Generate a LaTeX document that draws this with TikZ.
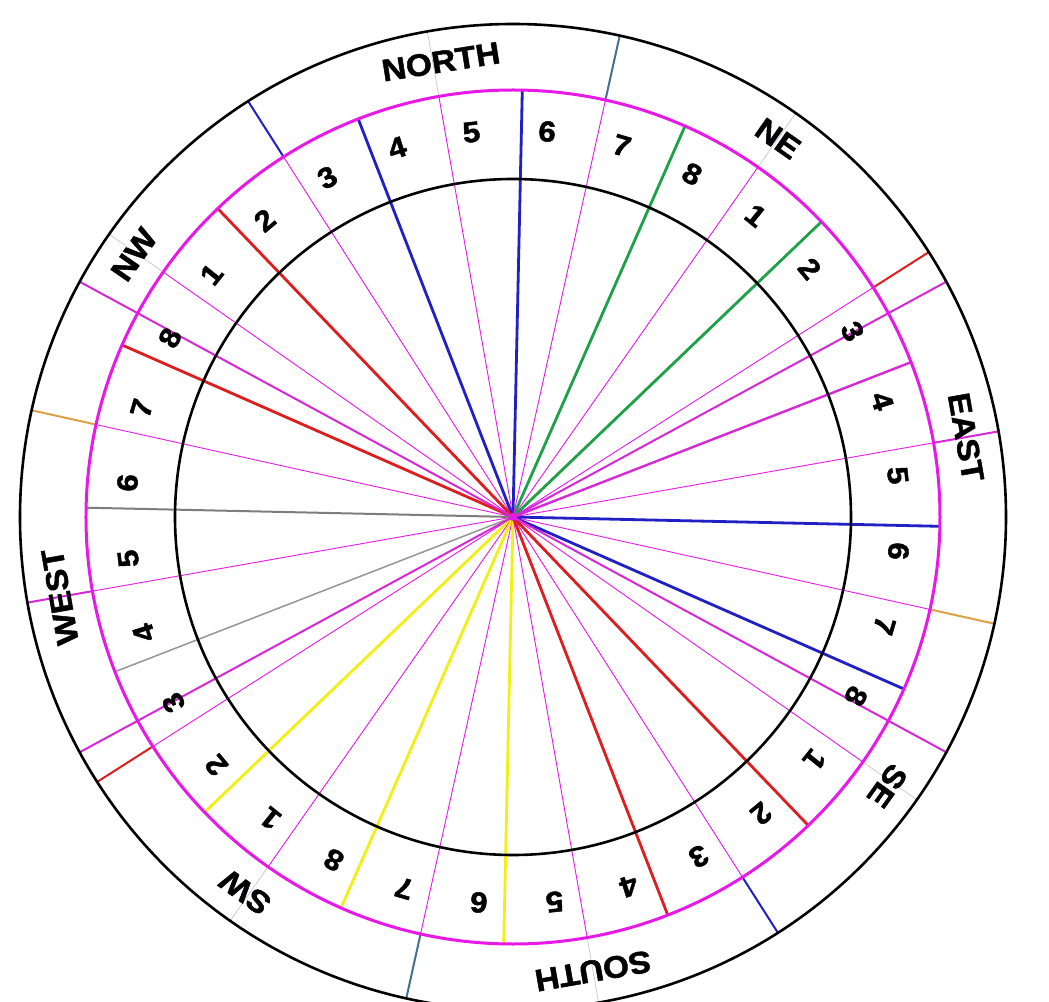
\documentclass[tikz,border=0pt]{standalone}
\usepackage{fontspec}
\newfontfamily\lblfont{Liberation Sans Bold}[FakeStretch=1.08, FakeBold=1.6]
\definecolor{mag}{RGB}{232,24,232}
\definecolor{magmed}{RGB}{214,40,214}
\definecolor{cblue}{RGB}{32,32,196}
\definecolor{cred}{RGB}{222,30,30}
\definecolor{cgreen}{RGB}{30,160,70}
\definecolor{cyellow}{RGB}{240,240,20}
\definecolor{cgrayA}{RGB}{125,125,125}
\definecolor{cgrayB}{RGB}{150,150,150}
\definecolor{corange}{RGB}{222,160,70}
\definecolor{cgblue}{RGB}{70,110,145}
\definecolor{cfaint}{RGB}{205,185,205}
\tikzset{
  ring/.style={draw=black, line width=2.6pt},
  magring/.style={draw=mag, line width=3pt},
  numlbl/.style={inner sep=0pt, font=\lblfont\fontsize{29}{29}\selectfont},
  dirlbl/.style={inner sep=0pt, font=\lblfont\fontsize{31}{31}\selectfont},
  medline/.style={draw=magmed, line width=2pt}
}
\begin{document}
\begin{tikzpicture}[x=1pt,y=1pt]
\useasboundingbox (-513,-484) rectangle (536,517);
\clip (-513,-484) rectangle (536,517);
\fill[white] (-513,-484) rectangle (536,517);
\def\Rout{493}
\def\Rmag{427}
\def\Rin{338}
\coordinate (c) at (0,0);
% radial boundary lines from centre to magenta circle
\foreach \k/\col/\w in {0/cblue/2.8,1/mag/0.9,2/cblue/2.8,3/mag/0.9,4/cred/2.8,5/mag/0.9,
  6/cred/2.8,7/mag/0.9,8/cgrayA/2,9/mag/0.9,10/cgrayB/1.5,11/mag/0.9,12/cyellow/2.8,
  13/mag/0.9,14/cyellow/2.8,15/mag/0.9,16/cyellow/2.8,17/mag/0.9,18/cred/2.8,19/mag/0.9,
  20/cred/2.8,21/mag/0.9,22/cblue/2.8,23/mag/0.9,24/cblue/2.8,25/mag/0.9,26/magmed/2.4,
  27/mag/0.9,28/cgreen/2.8,29/mag/0.9,30/cgreen/2.8,31/mag/0.9}{
  \pgfmathsetmacro\a{88.75+11.25*\k}
  \coordinate (b\k) at (\a:\Rmag);
  \draw[draw=\col, line width=\w pt] (c) -- (b\k);
}
% extensions from magenta circle to outer circle
\foreach \k/\col/\w in {1/cfaint/0.6,3/cblue/2,5/cfaint/0.6,7/corange/2,9/magmed/2,
  11/cred/2,13/cfaint/0.6,15/cgblue/2,17/cfaint/0.6,19/cblue/2,21/cfaint/0.6,
  23/corange/2,25/magmed/2,27/cred/2,29/cfaint/0.6,31/cgblue/2}{
  \pgfmathsetmacro\a{88.75+11.25*\k}
  \coordinate (e\k) at (\a:\Rout);
  \draw[draw=\col, line width=\w pt] (b\k) -- (e\k);
}
% four long magenta lines
\foreach \a/\nm in {28.5/m1,151.5/m2,208.5/m3,331.5/m4}{
  \coordinate (\nm) at (\a:\Rout);
  \draw[medline] (c) -- (\nm);
}
% circles
\draw[ring] (c) circle (\Rout);
\draw[ring] (c) circle (\Rin);
\draw[magring] (c) circle (\Rmag);
\fill[mag] (c) circle (4);
% pada numbers
\foreach \k/\n in {0/5,1/4,2/3,3/2,4/1,5/8,6/7,7/6,8/5,9/4,10/3,11/2,12/1,13/8,14/7,15/6,
  16/5,17/4,18/3,19/2,20/1,21/8,22/7,23/6,24/5,25/4,26/3,27/2,28/1,29/8,30/7,31/6}{
  \pgfmathsetmacro\a{94.375+11.25*\k+1.8}
  \node[numlbl, rotate=\a-90] (n\k) at (\a:387) {\n};
}
% direction names
\node[dirlbl, rotate=9] (north) at (99:461) {NORTH};
\node[dirlbl, rotate=-35] (ne) at (55:462) {NE};
\node[dirlbl, rotate=-80] (east) at (10:460) {EAST};
\node[dirlbl, rotate=234.3] (se) at (324.3:461) {SE};
\node[dirlbl, rotate=190] (south) at (280:461) {SOUTH};
\node[dirlbl, rotate=144.5] (sw) at (234.5:461) {SW};
\node[dirlbl, rotate=100] (west) at (190:460) {WEST};
\node[dirlbl, rotate=55.3] (nw) at (145.3:461) {NW};
\end{tikzpicture}
\end{document}
